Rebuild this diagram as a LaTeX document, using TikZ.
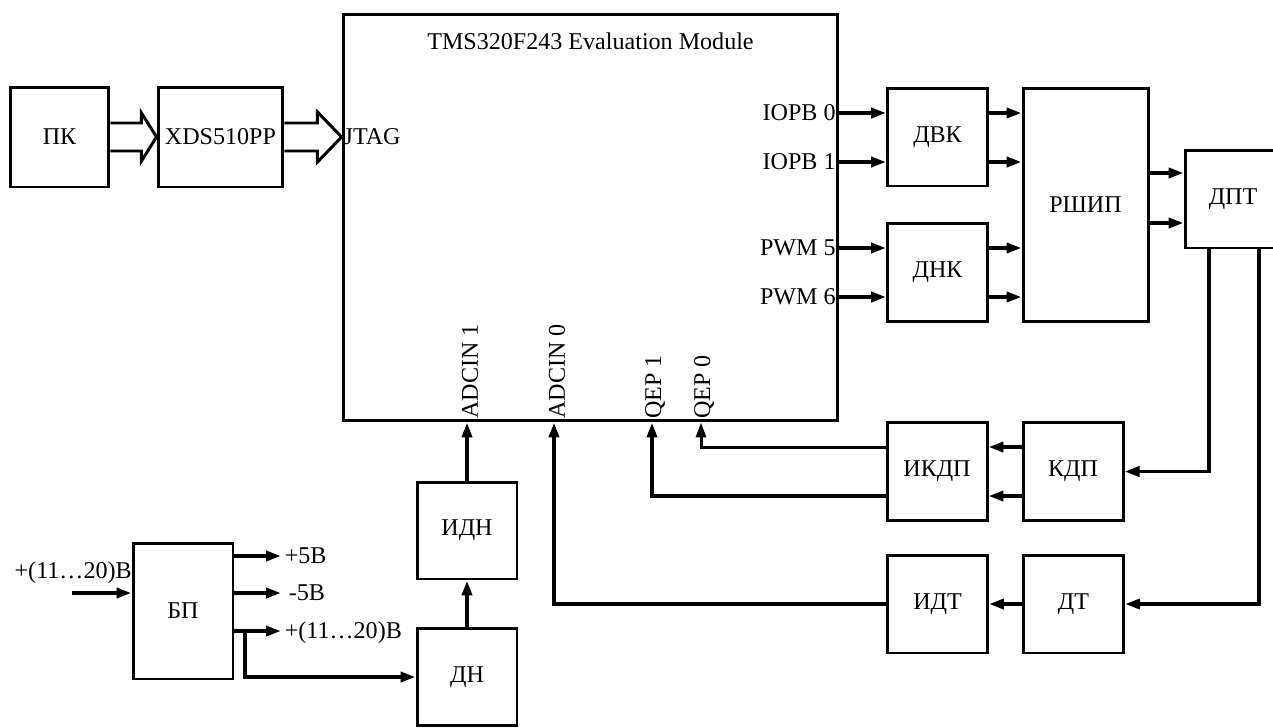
\documentclass[tikz,border=0pt]{standalone}
\usepackage{fontspec}
\setmainfont{Liberation Serif}
\usetikzlibrary{arrows.meta,calc}
\tikzset{
  blk/.style={draw, line width=1.7pt, minimum width=2cm, minimum height=1.96cm, inner sep=0pt},
  arr/.style={line width=2.2pt, -{Triangle[length=3mm,width=2mm]}},
  thinarr/.style={line width=1.7pt, -{Triangle[length=3mm,width=2mm]}},
  ln/.style={line width=1.7pt, line join=miter},
  pinlbl/.style={inner sep=2pt},
}
\begin{document}
\begin{tikzpicture}[x=0.02cm, y=-0.02cm, font=\fontsize{13.7}{16}\selectfont]
\useasboundingbox (0,0) rectangle (1273,727);

% blocks
\node[blk, minimum width=1.98cm, minimum height=2cm] (pk) at (59.5,137) {ПК};
\node[blk, minimum width=2.5cm, minimum height=2cm] (xds) at (220.5,137) {XDS510PP};
\node[blk, minimum width=9.9cm, minimum height=8.14cm] (main) at (590.5,217.5) {};
\node (title) at ($(main.north)+(0,29)$) {TMS320F243 Evaluation Module};
\node[blk] (dvk) at (937.5,137) {ДВК};
\node[blk] (dnk) at (937.5,272.5) {ДНК};
\node[blk, minimum width=2.5cm, minimum height=4.68cm] (rship) at (1085.5,205) {РШИП};
\node[blk, minimum width=1.92cm] (dpt) at (1233,199) {ДПТ};
\node[blk] (ikdp) at (937,471.5) {ИКДП};
\node[blk] (kdp) at (1073,471.5) {КДП};
\node[blk] (idt) at (937.5,604) {ИДТ};
\node[blk] (dt) at (1073.5,604) {ДТ};
\node[blk, minimum height=1.94cm] (idn) at (467,530.5) {ИДН};
\node[blk, minimum height=1.94cm] (dn) at (467,677) {ДН};
\node[blk, minimum height=2.72cm] (bp) at (183,611) {БП};

% hollow arrows to JTAG
\draw[ln] ($(pk.east)+(0,-14)$) -- ++(31,0) -- ++(0,-10) -- (xds.west)
  -- ($(pk.east)+(31,24)$) -- ++(0,-10) -- ($(pk.east)+(0,14)$);
\draw[ln] ($(xds.east)+(0,-14)$) -- ++(33,0) -- ++(0,-11) -- (xds.east -| main.west)
  -- ($(xds.east)+(33,25)$) -- ++(0,-11) -- ($(xds.east)+(0,14)$);
\node[pinlbl, anchor=west, inner sep=1pt] (jtag) at (xds.east -| main.west) {JTAG};

% pins of the module
\coordinate (iopb0) at (main.east |- 0,113);
\coordinate (iopb1) at (main.east |- 0,162);
\coordinate (pwm5) at (main.east |- 0,248);
\coordinate (pwm6) at (main.east |- 0,297);
\coordinate (adcin1) at (main.south -| idn.north);
\coordinate (adcin0) at (main.south -| 554,0);
\coordinate (qep1) at (main.south -| 652,0);
\coordinate (qep0) at (main.south -| 701,0);
\foreach \p/\t in {iopb0/IOPB 0, iopb1/IOPB 1, pwm5/PWM 5, pwm6/PWM 6}
  \node[pinlbl, anchor=east] at (\p) {\t};
\foreach \p/\t in {adcin1/ADCIN 1, adcin0/ADCIN 0, qep1/QEP 1, qep0/QEP 0}
  \node[pinlbl, rotate=90, anchor=west] at ($(\p)+(3,0)$) {\t};

% outputs to the drivers
\foreach \p in {iopb0, iopb1}{
  \draw[arr] (\p) -- (\p -| dvk.west);
  \draw[arr] (\p -| dvk.east) -- (\p -| rship.west);
}
\foreach \p in {pwm5, pwm6}{
  \draw[arr] (\p) -- (\p -| dnk.west);
  \draw[arr] (\p -| dnk.east) -- (\p -| rship.west);
}
\draw[arr] (rship.east |- 0,173) -- (dpt.west |- 0,173);
\draw[arr] (rship.east |- 0,223) -- (dpt.west |- 0,223);

% feedback
\draw[arr] (dpt.south -| 1209,0) |- (kdp.east);
\draw[arr] (dpt.south -| 1259,0) |- (dt.east);
\draw[arr] (kdp.west |- 0,447) -- (ikdp.east |- 0,447);
\draw[arr] (kdp.west |- 0,496) -- (ikdp.east |- 0,496);
\draw[thinarr] (ikdp.west |- 0,447) -| (qep0);
\draw[arr] (ikdp.west |- 0,496) -| (qep1);
\draw[arr] (dt.west) -- (idt.east);
\draw[arr] (idt.west) -| (adcin0);
\draw[arr] (idn.north) -- (adcin1);
\draw[arr] (dn.north) -- (idn.south);

% power supply
\node[anchor=east, inner sep=0pt] (vinlbl) at (132,573) {+(11…20)В};
\coordinate (vin) at (72,593);
\draw[arr] (vin) -- (bp.west |- vin);
\node[anchor=west, inner sep=2pt] (p5) at (281,556) {+5В};
\node[anchor=west, inner sep=2pt] (m5) at (285,593) {-5В};
\node[anchor=west, inner sep=2pt] (p11) at (281,633) {+(11…20)В};
\draw[arr] (bp.east |- p5) -- (p5.west);
\draw[arr] (bp.east |- m5) -- (m5.west -| p5.west);
\draw[arr] (bp.east |- 0,631) -- (p5.west |- 0,631);
\coordinate (br) at (245,631);
\draw[arr] (br) |- (dn.west);
\end{tikzpicture}
\end{document}
